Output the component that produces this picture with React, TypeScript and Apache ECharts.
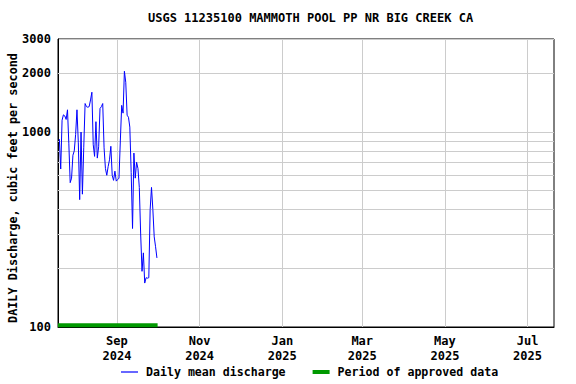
import React, { useEffect, useRef } from "react";
import * as echarts from "echarts";

const TITLE = "USGS 11235100 MAMMOTH POOL PP NR BIG CREEK CA";
const Y_NAME = "DAILY Discharge, cubic feet per second";
const SERIES_NAMES = ["Daily mean discharge", "Period of approved data"];

// first day of the daily series (year, month index, day)
const FIRST_DAY = [2024, 6, 20];
// daily mean discharge, cfs, Jul 20 2024 .. Sep 30 2024
const DISCHARGE = [
  920, 646, 1150, 1225, 1210, 1160, 1300, 870, 550, 580,
  760, 800, 970, 1300, 880, 450, 1000, 480, 830, 1400,
  1350, 1340, 1350, 1460, 1600, 860, 750, 1130, 735, 840,
  1320, 1350, 1400, 830, 650, 600, 665, 720, 845, 600,
  565, 630, 560, 570, 580, 900, 1370, 1250, 2050, 1800,
  1220, 1190, 1060, 620, 320, 780, 580, 700, 650, 520,
  300, 193, 240, 168, 179, 178, 179, 400, 520, 400,
  290, 258, 226,
];

const AXIS_START = [2024, 6, 19, 12];
const AXIS_END = [2025, 6, 20, 12];
const MONTH_TICKS = [
  [2024, 8, 1],
  [2024, 10, 1],
  [2025, 0, 1],
  [2025, 2, 1],
  [2025, 4, 1],
  [2025, 6, 1],
];
const MONTH_NAMES = ["Jan", "Feb", "Mar", "Apr", "May", "Jun", "Jul", "Aug", "Sep", "Oct", "Nov", "Dec"];
const Y_MIN = 100;
const Y_MAX = 3000;
const Y_EXTRA_LABELS = [2000];
const Y_MINOR_GRID = [200, 300, 400, 500, 600, 700, 800, 900, 2000];
const APPROVED_PERIOD = [
  [2024, 6, 19, 12],
  [2024, 9, 1, 0],
];

const toTime = (p: number[]) => new Date(p[0], p[1], p[2], p[3] || 0).getTime();

const FONT = "DejaVu Sans Mono";
const labelFont = {
  fontFamily: FONT,
  fontWeight: "bold" as const,
  fontSize: 12,
  color: "#000",
};

export default function App() {
  const ref = useRef<HTMLDivElement>(null);

  useEffect(() => {
    if (!ref.current) return;
    const chart = echarts.init(ref.current, undefined, { renderer: "svg" });

    const lineData = DISCHARGE.map((v, i) => [
      new Date(FIRST_DAY[0], FIRST_DAY[1], FIRST_DAY[2] + i, 12).getTime(),
      v,
    ]);
    const approvedLevel = 102;
    const approvedData = APPROVED_PERIOD.map((p) => [toTime(p), approvedLevel]);
    const monthTimes = MONTH_TICKS.map((p) => new Date(p[0], p[1], p[2]).getTime());

    chart.setOption({
      animation: false,
      backgroundColor: "#ffffff",
      title: {
        text: TITLE,
        left: 148,
        top: 12,
        padding: 0,
        textStyle: labelFont,
      },
      legend: {
        left: 121,
        top: 366,
        itemWidth: 17,
        itemHeight: 14,
        itemGap: 27,
        padding: 0,
        data: [
          { name: SERIES_NAMES[0], icon: "path://M0 0H17V1.2H0Z" },
          { name: SERIES_NAMES[1], icon: "path://M0 0H17V4H0Z" },
        ],
        textStyle: { ...labelFont, fontSize: 11.6, padding: [0, 0, 0, 3] },
      },
      grid: {
        left: 58,
        right: 22,
        top: 39,
        bottom: 57,
        show: true,
        borderColor: "#000",
        borderWidth: 1,
        backgroundColor: "transparent",
        containLabel: false,
        outerBoundsMode: "none",
      },
      xAxis: {
        type: "value",
        min: toTime(AXIS_START),
        max: toTime(AXIS_END),
        axisLine: { show: true, lineStyle: { color: "#000", width: 1 } },
        axisTick: { show: false, customValues: monthTimes },
        splitLine: { show: true, lineStyle: { color: "#cccccc", width: 1 } },
        axisLabel: {
          ...labelFont,
          customValues: monthTimes,
          formatter: (val: number) => {
            const d = new Date(val);
            return MONTH_NAMES[d.getMonth()] + "\n" + d.getFullYear();
          },
          lineHeight: 15,
          margin: 6,
          hideOverlap: false,
        },
      },
      yAxis: {
        type: "log",
        logBase: 10,
        min: Y_MIN,
        max: Y_MAX,
        interval: 1,
        name: Y_NAME,
        nameLocation: "middle",
        nameGap: 39,
        nameMoveOverlap: false,
        nameTextStyle: { ...labelFont, fontSize: 11.8, padding: [0, 10, 0, 0] },
        axisLine: { show: true, lineStyle: { color: "#000", width: 1 } },
        axisTick: { show: false },
        splitLine: { show: true, lineStyle: { color: "#cccccc", width: 1 } },
        axisLabel: {
          ...labelFont,
          formatter: (v: number) => String(Math.round(v)),
          margin: 7,
          showMinLabel: true,
          showMaxLabel: true,
        },
      },
      series: [
        {
          name: SERIES_NAMES[0],
          type: "line",
          data: lineData,
          showSymbol: false,
          symbol: "none",
          lineStyle: { color: "#0000ff", width: 1 },
          itemStyle: { color: "#0000ff" },
          z: 3,
        },
        {
          name: SERIES_NAMES[1],
          type: "line",
          data: approvedData,
          showSymbol: false,
          symbol: "none",
          lineStyle: { color: "#009900", width: 4 },
          itemStyle: { color: "#009900" },
          z: 2,
          markLine: {
            silent: true,
            z: 1,
            symbol: ["none", "none"],
            lineStyle: { color: "#cccccc", type: "solid", width: 1 },
            label: { show: false },
            emphasis: { disabled: true },
            data: Y_MINOR_GRID.map((v) => ({
              yAxis: v,
              label: Y_EXTRA_LABELS.includes(v)
                ? {
                    show: true,
                    position: "start",
                    distance: 7,
                    formatter: String(v),
                    ...labelFont,
                  }
                : { show: false },
            })),
          },
        },
      ],
    });

    return () => chart.dispose();
  }, []);

  return (
    <div
      ref={ref}
      style={{ position: "absolute", left: 0, top: 0, width: 576, height: 384, background: "#fff" }}
    />
  );
}
